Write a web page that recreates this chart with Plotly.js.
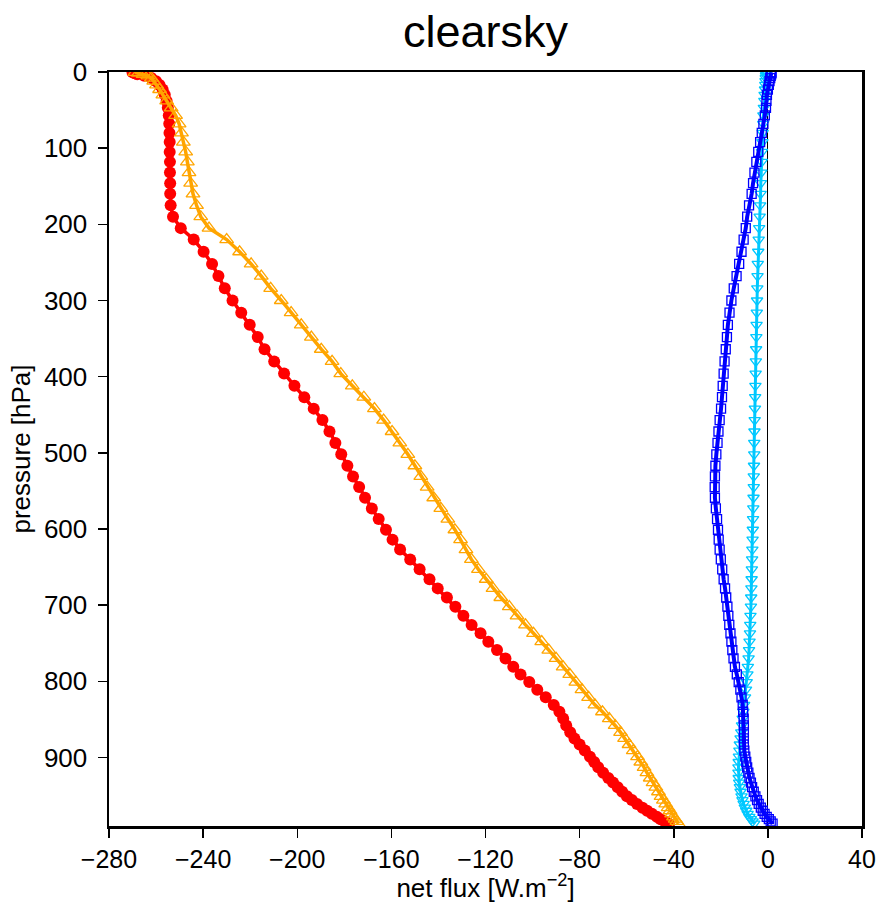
<!DOCTYPE html>
<html>
<head>
<meta charset="utf-8">
<script src="https://cdn.plot.ly/plotly-3.0.1.min.js"></script>
<style>html,body{margin:0;padding:0;background:#fff;}#chart{width:879px;height:903px;}</style>
</head>
<body>
<div id="chart"></div>
<script>
// pressure levels [hPa]
const pressure = [0.5,1.5,3,5,8,12,17,23,30,38,47,57,68,80,92,105,118,132,146,160,175,190,205,220,236,252,268,284,300,316,332,348,364,380,396,412,427,442,457,472,487,502,517,531,545,559,573,587,601,614,627,640,653,666,678,690,702,714,726,737,748,759,770,781,791,801,811,821,831,840,849,858,867,875,883,891,899,906,913,920,927,933,939,945,951,956,961,966,970,974,978,981,984,987];

// red, filled circles
const fluxRed = [-270,-269,-268,-265,-262,-260,-258.5,-257.2,-256.3,-255.5,-255,-254.6,-254.4,-254.3,-254.2,-254.2,-254.1,-254.1,-254,-254,-253.8,-252.8,-249.5,-244,-239.8,-236.2,-233.5,-230.8,-227.5,-223.8,-220.2,-216.8,-213.9,-209.8,-205.6,-201.2,-197,-193,-189.3,-186.3,-183.8,-181.3,-178.7,-176.3,-173.7,-171.2,-168.3,-165.4,-162.3,-159.5,-156.3,-152,-148,-143.8,-140.3,-136.4,-132.8,-129.4,-125.9,-122.1,-118.8,-115.1,-111.5,-108.2,-105.1,-101.4,-98,-94.4,-91,-88.6,-87,-85.7,-84,-82.2,-80,-77.8,-75.6,-73.8,-72.1,-70,-67.8,-65.8,-63.8,-61.9,-59.9,-57.8,-55.6,-53.3,-51.3,-49.3,-47.2,-45.6,-43.8,-42];

// orange, open triangles up
const fluxOrange = [-269,-267.5,-265.5,-263.5,-262,-261,-259.8,-258.5,-257.1,-255.5,-253.6,-251.7,-250.2,-249.2,-248.4,-247.4,-246.7,-246,-245.3,-244.3,-242.8,-241,-237.5,-230,-224.5,-219.6,-215.3,-211.3,-206.8,-202.6,-198.3,-194,-189.8,-185.2,-181.5,-176.6,-171.7,-167.2,-163.3,-159.7,-156.4,-153,-150,-147.5,-144.8,-142,-139,-136,-133,-130.6,-128.3,-126,-123,-119.7,-116.8,-113.5,-109.9,-106.6,-103,-99.6,-96.1,-93.1,-90,-87,-84.2,-81.6,-79,-76.2,-73.5,-70.3,-67.4,-64.9,-62.6,-60.9,-59,-57.2,-55.4,-54,-52.6,-51.4,-50,-48.8,-47.6,-46.5,-45.4,-44.4,-43.4,-42.4,-41.6,-40.9,-40.1,-39.4,-38.7,-38];

// blue, open squares
const fluxBlue = [1.5,1.5,1.4,1.2,1,0.7,0.4,0,-0.4,-0.6,-0.8,-1.3,-1.9,-2.6,-3.3,-4.1,-4.9,-5.7,-6.3,-6.9,-8,-8.8,-9.4,-10.3,-11.2,-12.2,-13.3,-14.5,-15.5,-16.3,-17,-17.4,-17.9,-18.4,-18.8,-19.2,-19.5,-19.9,-20.5,-21,-21.4,-21.9,-22.3,-22.5,-22.6,-22.5,-22.1,-21.6,-21.2,-20.9,-20.5,-20,-19.4,-18.8,-18.2,-17.7,-17.2,-16.8,-16.4,-15.9,-15.5,-15.1,-14.6,-14,-13.2,-12.4,-11.7,-11.2,-10.7,-10.5,-10.3,-10.2,-10.2,-10.2,-10.2,-10,-9.6,-9.2,-8.8,-8.3,-7.8,-7.2,-6.7,-6,-5.3,-4.6,-3.9,-3,-2.2,-1.4,-0.5,0.4,1.2,2];

// cyan, open triangles down
const fluxCyan = [-0.5,-0.6,-0.7,-0.8,-0.9,-1,-1.1,-1.2,-1.4,-1.5,-1.7,-1.9,-2,-2.2,-2.3,-2.5,-2.6,-2.8,-3,-3.1,-3.3,-3.5,-3.7,-3.9,-4.1,-4.3,-4.4,-4.5,-4.6,-4.7,-4.8,-4.9,-5,-5.1,-5.2,-5.3,-5.4,-5.5,-5.6,-5.7,-5.8,-5.8,-5.9,-6,-6,-6.1,-6.2,-6.3,-6.4,-6.5,-6.6,-6.7,-6.8,-6.9,-7,-7.1,-7.2,-7.4,-7.5,-7.6,-7.8,-8,-8.2,-8.5,-8.7,-9,-9.3,-9.7,-10.1,-10.4,-10.7,-11,-11.3,-11.6,-11.9,-12.1,-12.3,-12.4,-12.5,-12.5,-12.4,-12.2,-11.9,-11.6,-11.2,-10.8,-10.3,-9.8,-9.2,-8.6,-7.9,-7.2,-6.5,-5.8];

const xTicks = [-280,-240,-200,-160,-120,-80,-40,0,40];
const yTicks = [0,100,200,300,400,500,600,700,800,900];

const FONT = 'Liberation Sans, Arial, Helvetica, sans-serif';

const traces = [
  {x: fluxRed, y: pressure, mode: 'lines+markers', type: 'scatter',
   line: {color: '#FF0000', width: 3.5},
   marker: {symbol: 'circle', size: 12, color: '#FF0000'}},
  {x: fluxOrange, y: pressure, mode: 'lines+markers', type: 'scatter',
   line: {color: '#FFA500', width: 3.5},
   marker: {symbol: 'triangle-up-open', size: 12, color: '#FFA500', line: {width: 1.3, color: '#FFA500'}}},
  {x: fluxCyan, y: pressure, mode: 'lines+markers', type: 'scatter',
   line: {color: '#00C8FF', width: 3},
   marker: {symbol: 'triangle-down-open', size: 10, color: '#00C8FF', line: {width: 1.3, color: '#00C8FF'}}},
  {x: fluxBlue, y: pressure, mode: 'lines+markers', type: 'scatter',
   line: {color: '#0000FF', width: 4},
   marker: {symbol: 'square-open', size: 9, color: '#0000FF', line: {width: 1.3, color: '#0000FF'}}}
];

const layout = {
  width: 879, height: 903,
  margin: {l: 109, r: 17, t: 72, b: 77},
  paper_bgcolor: '#fff', plot_bgcolor: '#fff',
  showlegend: false,
  font: {family: FONT, color: '#000', size: 24},
  title: {text: 'clearsky', font: {family: FONT, size: 45, color: '#000'},
          x: 0.5, xref: 'paper', xanchor: 'center', y: 0.965, yref: 'container', yanchor: 'middle'},
  xaxis: {
    range: [-280, 40], autorange: false,
    tickmode: 'array', tickvals: xTicks, ticktext: xTicks.map(v => v < 0 ? '\u2212' + Math.abs(v) : String(v)),
    ticks: 'outside', ticklen: 9, tickwidth: 1.5, tickcolor: '#000',
    showline: true, linecolor: '#000', linewidth: 2.5, mirror: true,
    showgrid: false, zeroline: true, zerolinecolor: '#000', zerolinewidth: 1,
    tickfont: {family: FONT, size: 25, color: '#000'},
    title: {text: 'net flux [W.m<sup>\u22122</sup>]', font: {family: FONT, size: 26, color: '#000'}, standoff: 4}
  },
  yaxis: {
    range: [990, 0], autorange: false,
    tickmode: 'array', tickvals: yTicks, ticktext: yTicks.map(String),
    ticks: 'outside', ticklen: 9, tickwidth: 1.5, tickcolor: '#000',
    showline: true, linecolor: '#000', linewidth: 2.5, mirror: true,
    showgrid: false, zeroline: false,
    tickfont: {family: FONT, size: 26, color: '#000'},
    ticklabelstandoff: 5,
    title: {text: 'pressure [hPa]', font: {family: FONT, size: 26, color: '#000'}, standoff: 6}
  }
};

Plotly.newPlot('chart', traces, layout, {displayModeBar: false, staticPlot: true});
</script>
</body>
</html>
